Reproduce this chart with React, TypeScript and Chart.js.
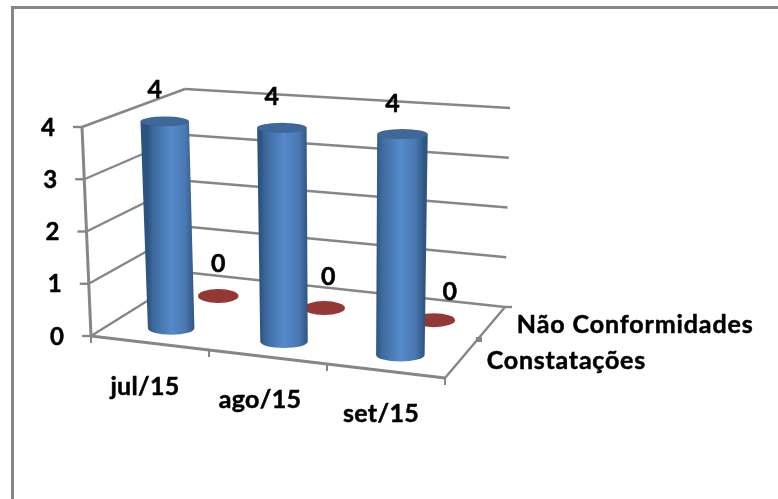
import React, { useEffect, useRef } from "react";
import { Chart, registerables } from "chart.js";

Chart.register(...registerables);

const categories = ["jul/15", "ago/15", "set/15"];
const seriesNames = ["Constatações", "Não Conformidades"];
const constatacoes = [4, 4, 4];
const naoConformidades = [0, 0, 0];
const valueTicks = [0, 1, 2, 3, 4];

type Pt = { x: number; y: number };
const lerp = (a: Pt, b: Pt, t: number): Pt => ({ x: a.x + (b.x - a.x) * t, y: a.y + (b.y - a.y) * t });

// 3D box frame of the projected plot: front/back, left/right, value 0 / max
const box = {
  fl0: { x: 91, y: 336 }, fr0: { x: 445, y: 378 }, bl0: { x: 192, y: 273 }, br0: { x: 505, y: 307 },
  fl4: { x: 82, y: 127 }, fr4: { x: 449, y: 146 }, bl4: { x: 185, y: 89 }, br4: { x: 510, y: 108 },
};
const project = (u: number, d: number, v: number): Pt => {
  const bottom = lerp(lerp(box.fl0, box.fr0, u), lerp(box.bl0, box.br0, u), d);
  const top = lerp(lerp(box.fl4, box.fr4, u), lerp(box.bl4, box.br4, u), d);
  return lerp(bottom, top, v);
};

const seriesDepth = [0.23, 0.73];
const FONT = "Lato, Carlito, sans-serif";
const GRID = "#868686";
const markNudge = [-0.5, -2.5, -1];
const labelNudge = [[[-10, -31], [-10, -31], [-10, -30]], [[0, -32], [4, -31], [16, -28]]];

const line = (ctx: CanvasRenderingContext2D, a: Pt, b: Pt, w = 2.4) => {
  ctx.lineWidth = w;
  ctx.strokeStyle = GRID;
  ctx.beginPath();
  ctx.moveTo(a.x, a.y);
  ctx.lineTo(b.x, b.y);
  ctx.stroke();
};
const text = (ctx: CanvasRenderingContext2D, s: string, x: number, y: number, size: number, align: CanvasTextAlign = "center", spacing = "0px") => {
  ctx.font = `bold ${size}px ${FONT}`;
  ctx.fillStyle = "#000";
  ctx.strokeStyle = "#000";
  ctx.lineWidth = 0.5;
  ctx.textAlign = align;
  ctx.textBaseline = "middle";
  (ctx as any).letterSpacing = spacing;
  ctx.fillText(s, x, y);
  ctx.strokeText(s, x, y);
  (ctx as any).letterSpacing = "0px";
};

const plot3d = {
  id: "plot3d",
  beforeDatasetsDraw(chart: any) {
    const { ctx, chartArea: a, scales } = chart;
    const yS = scales.y;
    const toV = (val: number) => (a.bottom - yS.getPixelForValue(val)) / a.height;
    const toU = (px: number) => (px - a.left) / a.width;

    ctx.save();
    // chart-space frame
    ctx.fillStyle = "#868686";
    ctx.fillRect(11, 6, 767, 3);
    ctx.fillRect(11, 6, 3, 493);

    ctx.filter = "blur(0.5px)";
    // walls
    ctx.lineCap = "butt";
    valueTicks.forEach((t) => {
      const v = toV(t);
      const f = project(0, 0, v), bl = project(0, 1, v), br = project(1, 1, v);
      line(ctx, f, bl);
      line(ctx, bl, br);
      line(ctx, f, { x: f.x - 9, y: f.y });
      text(ctx, String(t), f.x - 34, f.y + 1, 24);
    });
    line(ctx, project(0, 0, 0), project(0, 0, 1), 3);
    line(ctx, project(0, 0, 0), project(1, 0, 0), 3);
    line(ctx, project(1, 0, 0), project(1, 1, 0), 2.4);
    const br0 = project(1, 1, 0);
    line(ctx, br0, { x: br0.x + 7, y: br0.y });

    // category ticks and labels along the front edge
    for (let i = 0; i <= categories.length; i++) {
      const p = project(i / categories.length, 0, 0);
      line(ctx, p, { x: p.x, y: p.y + 7 }, 2);
    }
    const catShift = [[-5, 44], [-8, 43], [-5, 43]];
    chart.getDatasetMeta(0).data.forEach((el: any, i: number) => {
      const u = toU(scales.x.getPixelForValue(i));
      const p = project(u, 0, 0);
      text(ctx, categories[i], p.x + catShift[i][0], p.y + catShift[i][1], 25, "center", "0.3px");
    });

    // series labels along the right edge
    const mid = project(1, 0.5, 0);
    line(ctx, { x: mid.x + 1, y: mid.y - 3 }, { x: mid.x + 7, y: mid.y - 3 }, 5);
    chart.data.datasets.forEach((ds: any, di: number) => {
      const p = project(1, seriesDepth[di], 0);
      text(ctx, ds.label, p.x + (di ? 28 : 28), p.y - 1, 25, "left", di ? "0.9px" : "0.75px");
    });

    // marks, back series first
    const order = [1, 0];
    const points: any[] = [];
    order.forEach((di) => {
      const ds = chart.data.datasets[di];
      chart.getDatasetMeta(di).data.forEach((el: any, i: number) => {
        const u = toU(el.x);
        const v = toV(ds.data[i]);
        const b = project(u, seriesDepth[di], 0);
        const t = project(u, seriesDepth[di], v);
        b.x += markNudge[i];
        t.x += markNudge[i];
        const rb = 23 + 1.5 * u + (di ? -3 : 0);
        const rt = rb + (v > 0 ? 1 : 0);
        const ry = di ? 7 : 6.5;
        if (v <= 0) {
          ctx.fillStyle = ds.backgroundColor;
          ctx.beginPath();
          ctx.ellipse(t.x, t.y, rb, ry, 0, 0, Math.PI * 2);
          ctx.fill();
        } else {
          const g = ctx.createLinearGradient(b.x - rb, 0, b.x + rb, 0);
          g.addColorStop(0, "#2c5482");
          g.addColorStop(0.12, "#3d6a9e");
          g.addColorStop(0.5, "#568acb");
          g.addColorStop(0.8, "#4a79b3");
          g.addColorStop(1, "#2f5580");
          ctx.fillStyle = g;
          ctx.beginPath();
          ctx.moveTo(t.x - rt, t.y);
          ctx.lineTo(b.x - rb, b.y);
          ctx.ellipse(b.x, b.y, rb, ry, 0, Math.PI, 0, true);
          ctx.lineTo(t.x + rt, t.y);
          ctx.closePath();
          ctx.fill();
          ctx.fillStyle = "#3f6797";
          ctx.beginPath();
          ctx.ellipse(t.x, t.y, rt, 5, 0, 0, Math.PI * 2);
          ctx.fill();
        }
        points.push({ t, di, i, val: ds.data[i] });
      });
    });
    points.forEach(({ t, di, i, val }) => {
      const n = labelNudge[di][i];
      text(ctx, String(val), t.x + n[0], t.y + n[1], 25);
    });
    ctx.restore();
    return false;
  },
};

export default function App() {
  const ref = useRef<HTMLCanvasElement>(null);
  useEffect(() => {
    document.body.style.margin = "0";
    const chart = new Chart(ref.current!, {
      type: "bar",
      data: {
        labels: categories,
        datasets: [
          { label: seriesNames[0], data: constatacoes, backgroundColor: "#4f81bd" },
          { label: seriesNames[1], data: naoConformidades, backgroundColor: "#953735" },
        ],
      },
      options: {
        animation: false,
        responsive: false,
        layout: { padding: 0 },
        plugins: { legend: { display: false }, tooltip: { enabled: false } },
        scales: {
          x: { display: false, offset: true } as any,
          y: { display: false, min: 0, max: 4 },
        },
        datasets: { bar: { grouped: false } },
      } as any,
      plugins: [plot3d],
    });
    return () => chart.destroy();
  }, []);
  return <canvas ref={ref} width={778} height={499} style={{ display: "block", background: "#fff" }} />;
}
